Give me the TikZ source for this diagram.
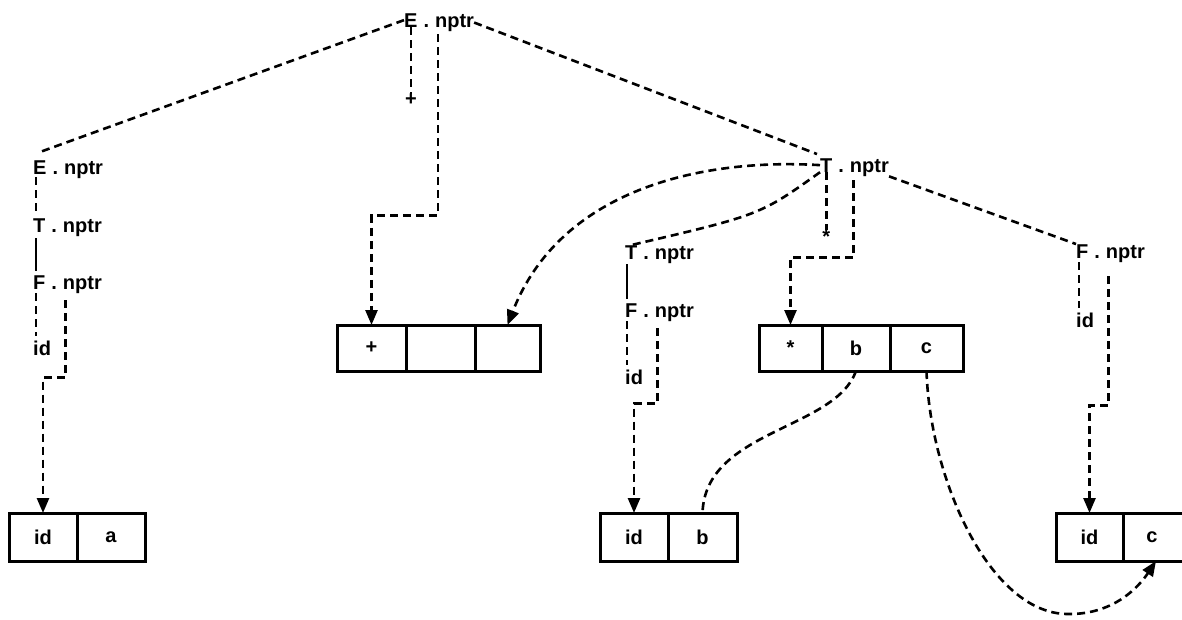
\documentclass[tikz,border=0pt]{standalone}
\usepackage{fontspec}
\setmainfont{Liberation Sans}
\usetikzlibrary{arrows.meta,calc}
\newcommand\attrlab[4]{%
  \node[lab,anchor=base west] (#1) at (#2,#3) {#4};
  \node[lab,anchor=base west] (#1d) at (#1.base east) {\kern5.6pt.\kern5.6pt};
  \node[lab,anchor=base west] (#1n) at (#1d.base east) {nptr};}
\begin{document}
\begin{tikzpicture}[x=1pt,y=-1pt,
  lab/.style={font=\fontsize{20}{24}\selectfont\bfseries, inner sep=0pt},
  dl/.style={line width=2.6pt, dash pattern=on 8pt off 5pt},
  sl/.style={line width=2.8pt},
  tip/.style={-{Triangle[length=15pt,width=12pt]}},
  cell/.style={draw, line width=3pt, outer sep=0pt, minimum height=46pt,
    inner sep=0pt, font=\fontsize{20}{24}\selectfont\bfseries, anchor=north west},
]
\useasboundingbox (0,0) rectangle (1182,619);

% labels
\attrlab{E0}{404}{27}{E}
\attrlab{E1}{33}{174}{E}
\attrlab{T1}{33}{232}{T}
\attrlab{F1}{33}{289}{F}
\node[lab,anchor=base west] (id1) at (33,355) {id};
\attrlab{T0}{820}{172}{T}
\attrlab{T2}{625}{259}{T}
\attrlab{F2}{625}{317}{F}
\node[lab,anchor=base west] (id2) at (625,384) {id};
\attrlab{F3}{1076}{258}{F}
\node[lab,anchor=base west] (id3) at (1076,327) {id};
\node[lab] (plus) at (E0.south |- 0,100) {+};
\node[lab] (star) at (T0.south |- 0,237) {*};

% boxes
\node[cell,minimum width=69pt] (p1) at (337,325) {+};
\node[cell,minimum width=69pt] (p2) at (p1.north east) {};
\node[cell,minimum width=65pt] (p3) at (p2.north east) {};

\node[cell,minimum width=63pt] (s1) at (759,325) {*};
\node[cell,minimum width=68pt] (s2) at (s1.north east) {b};
\node[cell,minimum width=73pt] (s3) at (s2.north east) {c};

\node[cell,minimum width=68pt,minimum height=48pt] (a1) at (9,513) {id};
\node[cell,minimum width=68pt,minimum height=48pt] (a2) at (a1.north east) {a};

\node[cell,minimum width=68pt,minimum height=48pt] (b1) at (600,513) {id};
\node[cell,minimum width=69pt,minimum height=48pt] (b2) at (b1.north east) {b};

\node[cell,minimum width=67pt,minimum height=48pt] (c1) at (1056,513) {id};
\node[cell,minimum width=90pt,minimum height=48pt] (c2) at (c1.north east) {};
\node[lab] (c2t) at ($(c1.east)+(29,0)$) {c};
\coordinate (c2in) at ($(c1.south east)+(33,0)$);

% top E . nptr
\draw[dl] (E0.west) -- ($(E1.north)+(0,-8)$);
\draw[dl] (E0.south) -- (plus.north);
\draw[dl,tip] ($(E0n.south west)+(3,3)$) -- ++(0,181) -| (p1.north);
\draw[dl] (E0n.east) -- ($(T0.north west)+(-3,-4)$);

% left column
\draw[dl] ($(E1.south west)+(3,3)$) -- ($(T1.north west)+(3,-3)$);
\draw[sl] ($(T1.south west)+(3,6)$) -- ($(F1.north west)+(3,-4)$);
\draw[dl] ($(F1.south west)+(3,4)$) -- ($(id1.north west)+(3,-4)$);
\draw[dl,tip] ($(F1n.south west)+(3,7)$) -- ++(0,77) -| (a1.north);

% T . nptr (upper)
\draw[dl] (T0.south) -- (star.north);
\draw[dl,tip] ($(T0n.south west)+(4,4)$) -- ++(0,77) -| (s1.north);
\draw[dl,tip] (T0.west) .. controls (700,158) and (560,190) .. (p3.north);
\draw[dl] (T0.south west) .. controls (760,215) .. (T2.north);
\draw[dl] (T0n.south east) -- (F3.north west);

% middle column
\draw[sl] ($(T2.south west)+(2,5)$) -- ($(F2.north west)+(2,-4)$);
\draw[dl] ($(F2.south west)+(2,4)$) -- ($(id2.north west)+(2,-4)$);
\draw[dl,tip] ($(F2n.south west)+(3,7)$) -- ++(0,75) -| (b1.north);

% right column
\draw[dl] ($(F3.south west)+(3,4)$) -- ($(id3.north west)+(3,-4)$);
\draw[dl,tip] ($(F3n.south west)+(3,14)$) -- ++(0,129) -| (c1.north);

% value pointers
\coordinate (cbot) at (1067,614);
\draw[dl] (s2.south) .. controls (835,430) and (705,430) .. (b2.north);
\draw[dl,tip] (s3.south) .. controls (930,480) and (990,613) .. (cbot)
   .. controls (1115,615) and (1140,585) .. (c2in);
\end{tikzpicture}
\end{document}
